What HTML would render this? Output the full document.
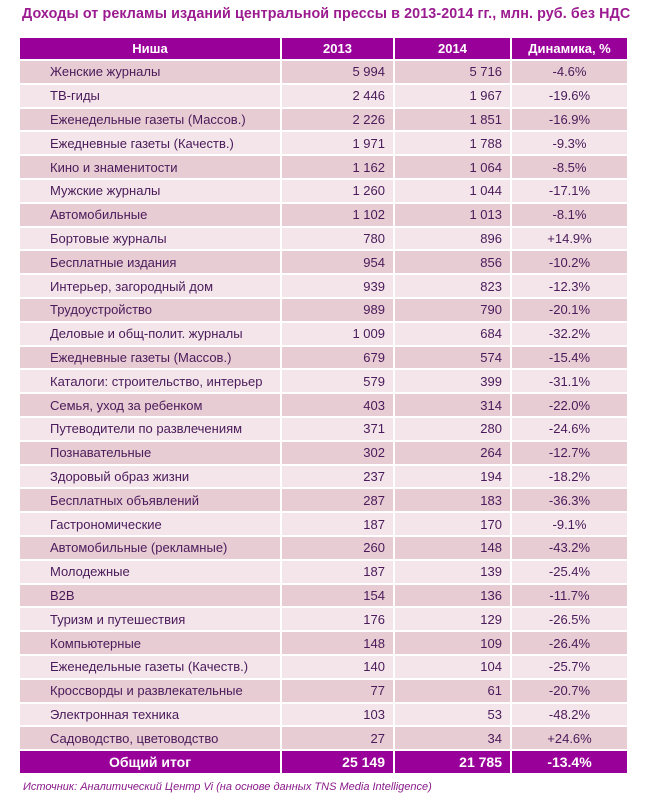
<!DOCTYPE html>
<html><head><meta charset="utf-8">
<style>
body{margin:0;width:645px;height:807px;background:#fff;font-family:"Liberation Sans",Arial,sans-serif;position:relative;overflow:hidden}
#title{position:absolute;left:22px;top:6px;font-size:14.3px;font-weight:bold;color:#9b1a8f;white-space:nowrap;letter-spacing:0.1px}
#tbl{position:absolute;left:18px;top:38px;width:609px;border-collapse:collapse;table-layout:fixed}
#tbl td,#tbl th{padding:0;font-size:13px;border-left:2px solid #fff;border-right:2px solid #fff;border-bottom:2px solid #fff}
#tbl th{background:#990099;color:#fff;font-weight:bold;height:21px;text-align:center}
#tbl td{height:21.8px;color:#4a1a5a}
tr.odd td{background:#e8ccd3}
tr.even td{background:#f3e5e9}
td.n{padding-left:30px !important;text-align:left}
td.v{text-align:right;padding-right:8px !important}
td.d{text-align:center}
tr.tot td{background:#990099 !important;color:#fff !important;font-weight:bold;height:20px;font-size:14px !important}
#src{position:absolute;left:23px;top:781px;font-size:11px;font-style:italic;color:#8a1a8a}
</style></head><body>
<div id="title">Доходы от рекламы изданий центральной прессы в 2013-2014 гг., млн. руб. без НДС</div>
<table id="tbl">
<colgroup><col style="width:262px"><col style="width:113px"><col style="width:117px"><col style="width:117px"></colgroup>
<thead><tr><th>Ниша</th><th>2013</th><th>2014</th><th>Динамика, %</th></tr></thead>
<tbody id="tb"></tbody>
</table>
<div id="src">Источник: Аналитический Центр Vi (на основе данных TNS Media Intelligence)</div>
<script>
const niches=["Женские журналы","ТВ-гиды","Еженедельные газеты (Массов.)","Ежедневные газеты (Качеств.)","Кино и знаменитости","Мужские журналы","Автомобильные","Бортовые журналы","Бесплатные издания","Интерьер, загородный дом","Трудоустройство","Деловые и общ-полит. журналы","Ежедневные газеты (Массов.)","Каталоги: строительство, интерьер","Семья, уход за ребенком","Путеводители по развлечениям","Познавательные","Здоровый образ жизни","Бесплатных объявлений","Гастрономические","Автомобильные (рекламные)","Молодежные","B2B","Туризм и путешествия","Компьютерные","Еженедельные газеты (Качеств.)","Кроссворды и развлекательные","Электронная техника","Садоводство, цветоводство"];
const v2013=["5 994","2 446","2 226","1 971","1 162","1 260","1 102","780","954","939","989","1 009","679","579","403","371","302","237","287","187","260","187","154","176","148","140","77","103","27"];
const v2014=["5 716","1 967","1 851","1 788","1 064","1 044","1 013","896","856","823","790","684","574","399","314","280","264","194","183","170","148","139","136","129","109","104","61","53","34"];
const dyn=["-4.6%","-19.6%","-16.9%","-9.3%","-8.5%","-17.1%","-8.1%","+14.9%","-10.2%","-12.3%","-20.1%","-32.2%","-15.4%","-31.1%","-22.0%","-24.6%","-12.7%","-18.2%","-36.3%","-9.1%","-43.2%","-25.4%","-11.7%","-26.5%","-26.4%","-25.7%","-20.7%","-48.2%","+24.6%"];
const total=["Общий итог","25 149","21 785","-13.4%"];
const tb=document.getElementById('tb');
function cell(tr,txt,cls,name){const td=document.createElement('td');td.textContent=txt;td.className=cls;


tr.appendChild(td);}
niches.forEach((n,i)=>{const tr=document.createElement('tr');tr.className=i%2?'even':'odd';


cell(tr,n,'n','niche-name');cell(tr,v2013[i],'v','value-2013');cell(tr,v2014[i],'v','value-2014');cell(tr,dyn[i],'d','dynamics');tb.appendChild(tr);});
const tr=document.createElement('tr');tr.className='tot';


cell(tr,total[0],'d','total-label');cell(tr,total[1],'v','total-2013');cell(tr,total[2],'v','total-2014');cell(tr,total[3],'d','total-dynamics');tb.appendChild(tr);
</script>
</body></html>
